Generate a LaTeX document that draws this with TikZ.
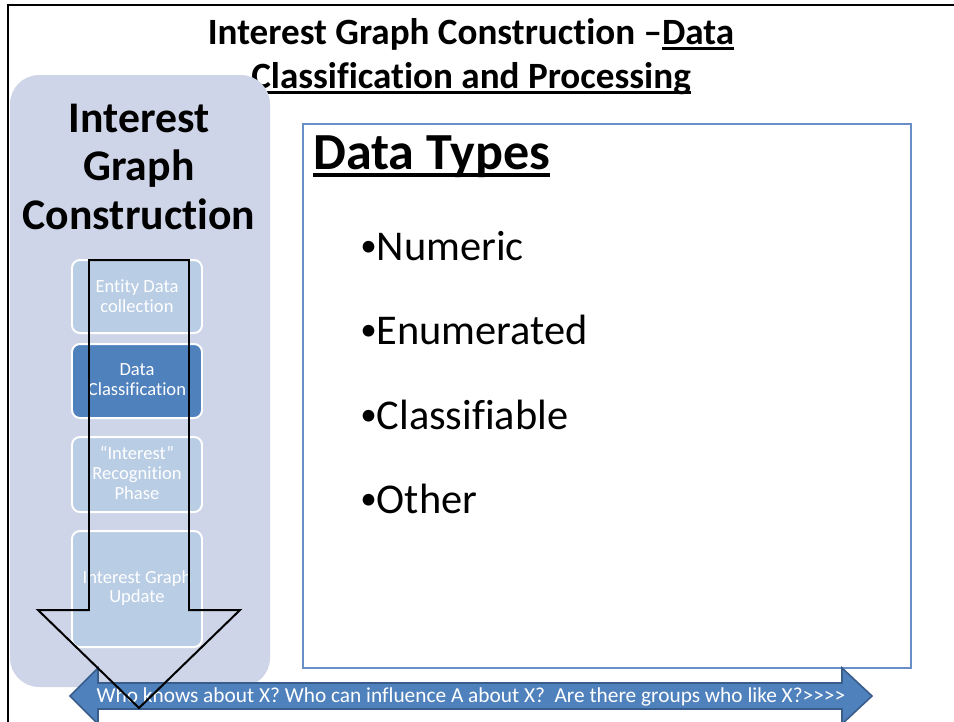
\documentclass[tikz,border=0pt]{standalone}
\usepackage{fontspec}
\setmainfont{Carlito}[Ligatures={NoCommon}]
\usetikzlibrary{calc}
\definecolor{panelc}{RGB}{207,213,232}
\definecolor{lightbox}{RGB}{185,205,229}
\definecolor{darkbox}{RGB}{79,129,189}
\definecolor{arrowborder}{RGB}{56,93,138}
\definecolor{databorder}{RGB}{105,143,200}
\newcommand\ulx[1]{\setbox0\hbox{#1}\rlap{\rule[-0.16em]{\wd0}{0.075em}}\box0}
\newcommand\bul{{\fontsize{25}{25}\selectfont\raisebox{0.1em}{•}}}
\tikzset{
  stepbox/.style={draw=white, line width=1.5pt, rounded corners=6pt},
  steptext/.style={text=white, align=center, font=\fontsize{14}{15}\selectfont},
  bullettext/.style={anchor=base west, inner sep=0pt, font=\fontsize{32}{38}\selectfont},
}
\begin{document}
\begin{tikzpicture}[x=0.75471pt, y=-0.75471pt]
\useasboundingbox (0,0) rectangle (954,721);
\fill[white] (0,0) rectangle (954,721);
% outer frame
\draw[line width=1.9pt] (954,5) -- (8,5) -- (8,725);
% title
\node[anchor=base, inner sep=0pt, font=\bfseries\fontsize{28}{34}\selectfont] (t1) at (471,44) {Interest Graph Construction –\ulx{Data}};
\node[anchor=base, inner sep=0pt, font=\bfseries\fontsize{28}{34}\selectfont] (t2) at (471,88) {\ulx{Classification and Processing}};
% left panel
\fill[panelc, rounded corners=22pt] (10,75) rectangle (270,687);
\node[anchor=base, inner sep=0pt, font=\bfseries\fontsize{33}{38}\selectfont] (h1) at (139,132) {Interest};
\node[anchor=base, inner sep=0pt, font=\bfseries\fontsize{33}{38}\selectfont] (h2) at (139,180) {Graph};
\node[anchor=base, inner sep=0pt, font=\bfseries\fontsize{33}{38}\selectfont] (h3) at (139,229) {Construction};
% step boxes
\filldraw[stepbox, fill=lightbox] (72,260) rectangle (202,333);
\node[steptext] (s1) at (137,296) {Entity Data\\collection};
\filldraw[stepbox, fill=darkbox] (72,344) rectangle (202,418);
\node[steptext] (s2) at (137,380) {Data\\Classification};
\filldraw[stepbox, fill=lightbox] (72,437) rectangle (202,512);
\node[steptext] (s3) at (137,473) {“Interest”\\Recognition\\Phase};
\filldraw[stepbox, fill=lightbox] (72,531) rectangle (202,647);
\node[steptext] (s4) at (137,588) {Interest Graph\\Update};
% data types box
\filldraw[draw=databorder, fill=white, line width=1.5pt] (303,124) rectangle (911,668);
\node[anchor=base west, inner sep=0pt, font=\bfseries\fontsize{39.3}{48}\selectfont] (dt) at (313,169) {\ulx{Data Types}};
\node[bullettext] (b1) at (360,260) {\bul Numeric};
\node[bullettext] (b2) at (360,344) {\bul Enumerated};
\node[bullettext] (b3) at (360,429) {\bul Classifiable};
\node[bullettext] (b4) at (360,513) {\bul Other};
% bottom double arrow
\filldraw[fill=darkbox, draw=arrowborder, line width=1.2pt]
  (70,696) -- (98,668) -- (98,683) -- (842,683) -- (842,668) -- (872,696)
  -- (842,724) -- (842,709) -- (98,709) -- (98,724) -- cycle;
\node[text=white, font=\fontsize{16.1}{19}\selectfont, inner sep=0pt] (bt) at (471,697) {Who knows about X? Who can influence A about X?\ \ Are there groups who like X?>{}>{}>{}>};
% hollow down arrow
\draw[line width=1.5pt, line join=miter]
  (89,260) -- (189,260) -- (189,610) -- (240,610) -- (139,708) -- (38,610) -- (89,610) -- cycle;
\end{tikzpicture}
\end{document}
